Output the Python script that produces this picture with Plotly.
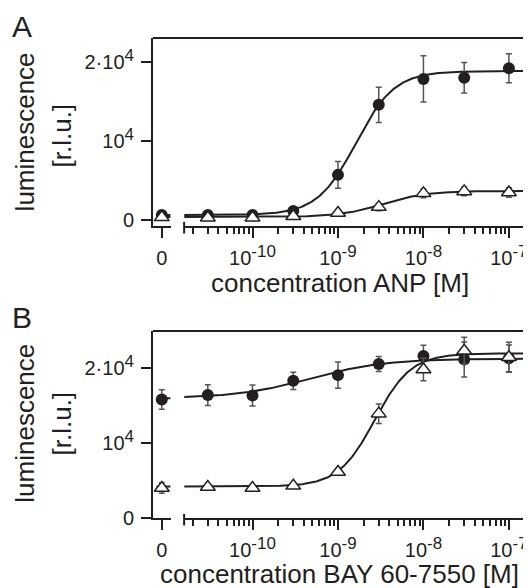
import numpy as np
import plotly.graph_objects as go

# ---------------- data ----------------
conc = [0, 3e-11, 1e-10, 3e-10, 1e-9, 3e-9, 1e-8, 3e-8, 1e-7]

# Panel A: ANP
anp_circle = [600, 600, 600, 1100, 5700, 14600, 17900, 18050, 19250]
anp_circle_err = [250, 200, 200, 300, 1700, 2250, 2950, 1950, 1850]
anp_tri = [300, 250, 250, 450, 850, 1600, 3350, 3600, 3450]
anp_tri_err = [250, 150, 150, 150, 200, 450, 550, 550, 600]
# fitted sigmoid parameters: bottom, top, logEC50, Hill slope
anp_circle_fit = [600, 18900, -8.79, 1.92]
anp_tri_fit = [350, 3650, -8.47, 1.7]

# Panel B: BAY 60-7550
bay_circle = [15850, 16430, 16380, 18340, 19100, 20580, 21650, 21200, 21340]
bay_circle_err = [1300, 1400, 1400, 1150, 1750, 1000, 1430, 2340, 1800]
bay_tri = [4000, 4150, 4000, 4300, 6150, 13950, 19850, 22350, 21500]
bay_tri_err = [700, 300, 300, 300, 300, 1300, 1500, 1800, 2000]
bay_circle_fit = [16000, 21300, -9.32, 1.0]
bay_tri_fit = [4200, 22000, -8.57, 2.04]

SUP = '<sup><span style="font-size:17px">{}</span></sup>'
y_tick_vals = [0, 1e4, 2e4]
y_tick_text = ["0", "10" + SUP.format("4"), "2·10" + SUP.format("4")]
x_tick_vals = [1e-10, 1e-9, 1e-8, 1e-7]
x_tick_text = ["10" + SUP.format(e) for e in ["-10", "-9", "-8", "-7"]]
x_minor_vals = [k * 10.0 ** e for e in range(-11, -7) for k in range(2, 10)]

panel_letters = ["A", "B"]
x_titles = ["concentration ANP [M]", "concentration BAY 60-7550 [M]"]
y_title_lines = ["luminescence", "[r.l.u.]"]

# ---------------- style ----------------
INK = "#231f20"
ERR = "#555555"
FONT = "Liberation Sans, Arial, sans-serif"
LOG_RANGE = [-10.8, -6.8]
ZERO_SEG = [-0.6, 1.0]
# page body has an 8px margin, so the figure is 16px smaller than the window
FIG_W, FIG_H = 523, 580
MARGIN = dict(l=145, r=3, t=30, b=70)
PLOT_W = FIG_W - MARGIN["l"] - MARGIN["r"]
PLOT_H = FIG_H - MARGIN["t"] - MARGIN["b"]


def px_x(win_x):
    """window pixel x -> paper x"""
    return (win_x - 8 - MARGIN["l"]) / PLOT_W


def px_y(win_y):
    """window pixel y -> paper y"""
    return (FIG_H - MARGIN["b"] + 8 - win_y) / PLOT_H


def hill(x, p):
    bottom, top, logec, h = p
    x = np.asarray(x, dtype=float)
    out = np.full(x.shape, float(bottom))
    pos = x > 0
    out[pos] = bottom + (top - bottom) / (1 + 10 ** ((logec - np.log10(x[pos])) * h))
    return out


panels = [
    dict(xz="x", xl="x2", y="y", yname="yaxis", xzname="xaxis", xlname="xaxis2",
         ydom=[px_y(226), 1.0], yrange=[-800, 23100],
         letter_y=px_y(27), ytitle_y=[px_y(131.7), px_y(135)], xtitle_y=px_y(283),
         series=[(anp_circle, anp_circle_err, anp_circle_fit, "circle"),
                 (anp_tri, anp_tri_err, anp_tri_fit, "tri")]),
    dict(xz="x3", xl="x4", y="y2", yname="yaxis2", xzname="xaxis3", xlname="xaxis4",
         ydom=[0.0, px_y(331)], yrange=[0, 25000],
         letter_y=px_y(317), ytitle_y=[px_y(423), px_y(423)], xtitle_y=px_y(574),
         series=[(bay_circle, bay_circle_err, bay_circle_fit, "circle"),
                 (bay_tri, bay_tri_err, bay_tri_fit, "tri")]),
]

fig = go.Figure()
curve_x = np.logspace(LOG_RANGE[0], LOG_RANGE[1], 400)

for p in panels:
    for vals, errs, fit, kind in p["series"]:
        fig.add_trace(go.Scatter(x=curve_x, y=hill(curve_x, fit), mode="lines",
                                 line=dict(color=INK, width=2),
                                 xaxis=p["xl"], yaxis=p["y"], hoverinfo="skip"))
        fig.add_trace(go.Scatter(x=ZERO_SEG, y=hill([0, 0], fit), mode="lines",
                                 line=dict(color=INK, width=2),
                                 xaxis=p["xz"], yaxis=p["y"], hoverinfo="skip"))
    for vals, errs, fit, kind in p["series"]:
        if kind == "circle":
            mk = dict(symbol="circle", size=12, color=INK, line=dict(width=0))
        else:
            mk = dict(symbol="triangle-up", size=13, color="white",
                      line=dict(color=INK, width=1.5))
        eb = dict(type="data", color=ERR, thickness=1.5, width=3)
        fig.add_trace(go.Scatter(x=[c for c in conc if c == 0],
                                 y=[v for c, v in zip(conc, vals) if c == 0],
                                 error_y=dict(eb, array=[e for c, e in zip(conc, errs) if c == 0]),
                                 mode="markers", marker=mk, cliponaxis=False,
                                 xaxis=p["xz"], yaxis=p["y"]))
        fig.add_trace(go.Scatter(x=[c for c in conc if c > 0],
                                 y=[v for c, v in zip(conc, vals) if c > 0],
                                 error_y=dict(eb, array=[e for c, e in zip(conc, errs) if c > 0]),
                                 mode="markers", marker=mk, cliponaxis=False,
                                 xaxis=p["xl"], yaxis=p["y"]))

axis_common = dict(showline=True, linecolor=INK, linewidth=2, ticks="outside",
                   ticklen=10, tickwidth=2, tickcolor=INK, showgrid=False,
                   zeroline=False, tickfont=dict(family=FONT, size=20, color=INK),
                   fixedrange=True)

layout = dict(width=FIG_W, height=FIG_H, showlegend=False, margin=MARGIN,
              paper_bgcolor="white", plot_bgcolor="white",
              font=dict(family=FONT, color=INK))

zero_dom = [0, px_x(170.7)]
log_dom = [px_x(184.3), 1]

shapes = []
annotations = []
for i, p in enumerate(panels):
    layout[p["xzname"]] = dict(axis_common, domain=zero_dom, range=[-1, 1],
                               anchor=p["y"], tickmode="array", ticklabelstandoff=3,
                               tickvals=[0], ticktext=["0"])
    layout[p["xlname"]] = dict(axis_common, type="log", domain=log_dom,
                               range=LOG_RANGE, anchor=p["y"], tickmode="array",
                               ticklabelstandoff=3,
                               tickvals=x_tick_vals, ticktext=x_tick_text,
                               minor=dict(tickmode="array", tickvals=x_minor_vals,
                                          ticks="outside", ticklen=6, tickwidth=2,
                                          tickcolor=INK, showgrid=False))
    layout[p["yname"]] = dict(axis_common, domain=p["ydom"], range=p["yrange"],
                              anchor=p["xz"], tickmode="array", ticklabelstandoff=3,
                              tickvals=y_tick_vals, ticktext=y_tick_text)
    yd = p["y"] + " domain"
    ln = dict(color=INK, width=2)
    shapes.append(dict(type="line", xref="paper", yref=yd, x0=0, x1=1, y0=1, y1=1, line=ln))
    shapes.append(dict(type="line", xref="paper", yref=yd, x0=1, x1=1, y0=0, y1=1, line=ln))
    shapes.append(dict(type="line", xref=p["xl"] + " domain", yref=yd,
                       x0=0, x1=0, y0=0.022, y1=-0.04, line=ln))

    annotations.append(dict(text=panel_letters[i], xref="paper", yref="paper",
                            x=px_x(9), y=p["letter_y"], xanchor="left", yanchor="middle",
                            showarrow=False, font=dict(family=FONT, size=30, color=INK)))
    annotations.append(dict(text=y_title_lines[0], xref="paper", yref="paper",
                            x=px_x(24), y=p["ytitle_y"][0], xanchor="center", yanchor="middle",
                            textangle=-90, showarrow=False,
                            font=dict(family=FONT, size=26, color=INK)))
    annotations.append(dict(text=y_title_lines[1], xref="paper", yref="paper",
                            x=px_x(62), y=p["ytitle_y"][1], xanchor="center", yanchor="middle",
                            textangle=-90, showarrow=False,
                            font=dict(family=FONT, size=26, color=INK)))
    annotations.append(dict(text=x_titles[i], xref="paper", yref="paper",
                            x=0.5, y=p["xtitle_y"], xanchor="center", yanchor="middle",
                            showarrow=False, font=dict(family=FONT, size=26, color=INK)))

layout["shapes"] = shapes
layout["annotations"] = annotations
fig.update_layout(**layout)

fig.write_html("out.html")
